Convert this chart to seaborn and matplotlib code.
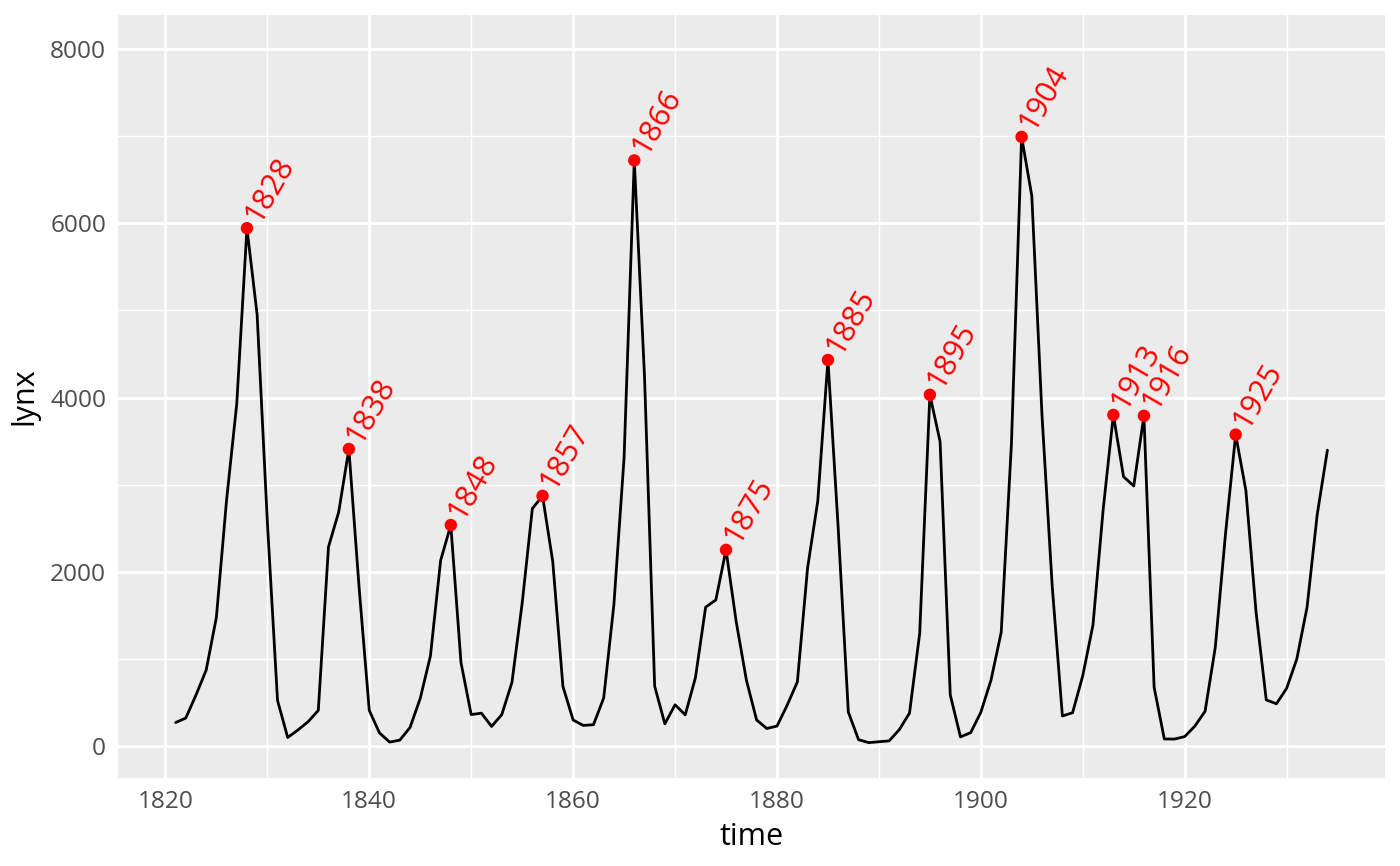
import numpy as np
import pandas as pd
import matplotlib
matplotlib.use("Agg")
import matplotlib.pyplot as plt
import seaborn as sns

# lynx trappings, 1821-1934
years = list(range(1821, 1935))
lynx = [
    269, 321, 585, 871, 1475, 2821, 3928, 5943, 4950, 2577,
    523, 98, 184, 279, 409, 2285, 2685, 3409, 1824, 409,
    151, 45, 68, 213, 546, 1033, 2129, 2536, 957, 361,
    377, 225, 360, 731, 1638, 2725, 2871, 2119, 684, 299,
    236, 245, 552, 1623, 3311, 6721, 4254, 687, 255, 473,
    358, 784, 1594, 1676, 2251, 1426, 756, 299, 201, 229,
    469, 736, 2042, 2811, 4431, 2511, 389, 73, 39, 49,
    59, 188, 377, 1292, 4031, 3495, 587, 105, 153, 387,
    758, 1307, 3465, 6991, 6313, 3794, 1836, 345, 382, 808,
    1388, 2713, 3800, 3091, 2985, 3790, 674, 81, 80, 108,
    229, 399, 1132, 2432, 3574, 2935, 1537, 529, 485, 662,
    1000, 1590, 2657, 3396,
]
peak_years = [1828, 1838, 1848, 1857, 1866, 1875, 1885, 1895, 1904, 1913, 1916, 1925]

x_ticks = [1820, 1840, 1860, 1880, 1900, 1920]
y_ticks = [0, 2000, 4000, 6000, 8000]

df = pd.DataFrame({"time": years, "lynx": lynx})
peaks = df[df["time"].isin(peak_years)]

sns.set_theme(style="darkgrid")
plt.rcParams["font.family"] = ["Open Sans", "DejaVu Sans"]

fig = plt.figure(figsize=(14, 8.66), dpi=100)
ax = fig.add_axes([118 / 1400, 1 - 778 / 866, (1385 - 118) / 1400, (778 - 15) / 866])
ax.set_facecolor("#EBEBEB")

sns.lineplot(data=df, x="time", y="lynx", color="black", lw=2.0, ax=ax, zorder=3)
sns.scatterplot(data=peaks, x="time", y="lynx", color="red", s=80,
                edgecolor="none", ax=ax, zorder=4)

# labels start just past the point, running up at 60 degrees
ang = np.deg2rad(60)
off = 7.0  # points
for _, row in peaks.iterrows():
    ax.annotate(str(int(row["time"])), (row["time"], row["lynx"]),
                xytext=(off * np.cos(ang), off * np.sin(ang)), textcoords="offset points",
                rotation=60, rotation_mode="anchor",
                ha="left", va="center", color="red", fontsize=22, zorder=5)

ax.set_xlim(1815.35, 1939.65)
ax.set_ylim(-367, 8390)
ax.set_xticks(x_ticks)
ax.set_yticks(y_ticks)
ax.set_xticks([1830, 1850, 1870, 1890, 1910, 1930], minor=True)
ax.set_yticks([1000, 3000, 5000, 7000], minor=True)

ax.grid(which="major", color="white", lw=2.13)
ax.grid(which="minor", color="white", lw=1.07)
for s in ax.spines.values():
    s.set_visible(False)

ax.tick_params(axis="both", which="major", length=5.5, width=2.13, color="#333333",
               labelsize=17.6, labelcolor="#4D4D4D", pad=3)
ax.tick_params(axis="both", which="minor", length=0)
ax.set_xlabel("time", fontsize=22, color="black", labelpad=6)
ax.set_ylabel("lynx", fontsize=22, color="black", labelpad=8)

fig.savefig("out.png", dpi=100)
